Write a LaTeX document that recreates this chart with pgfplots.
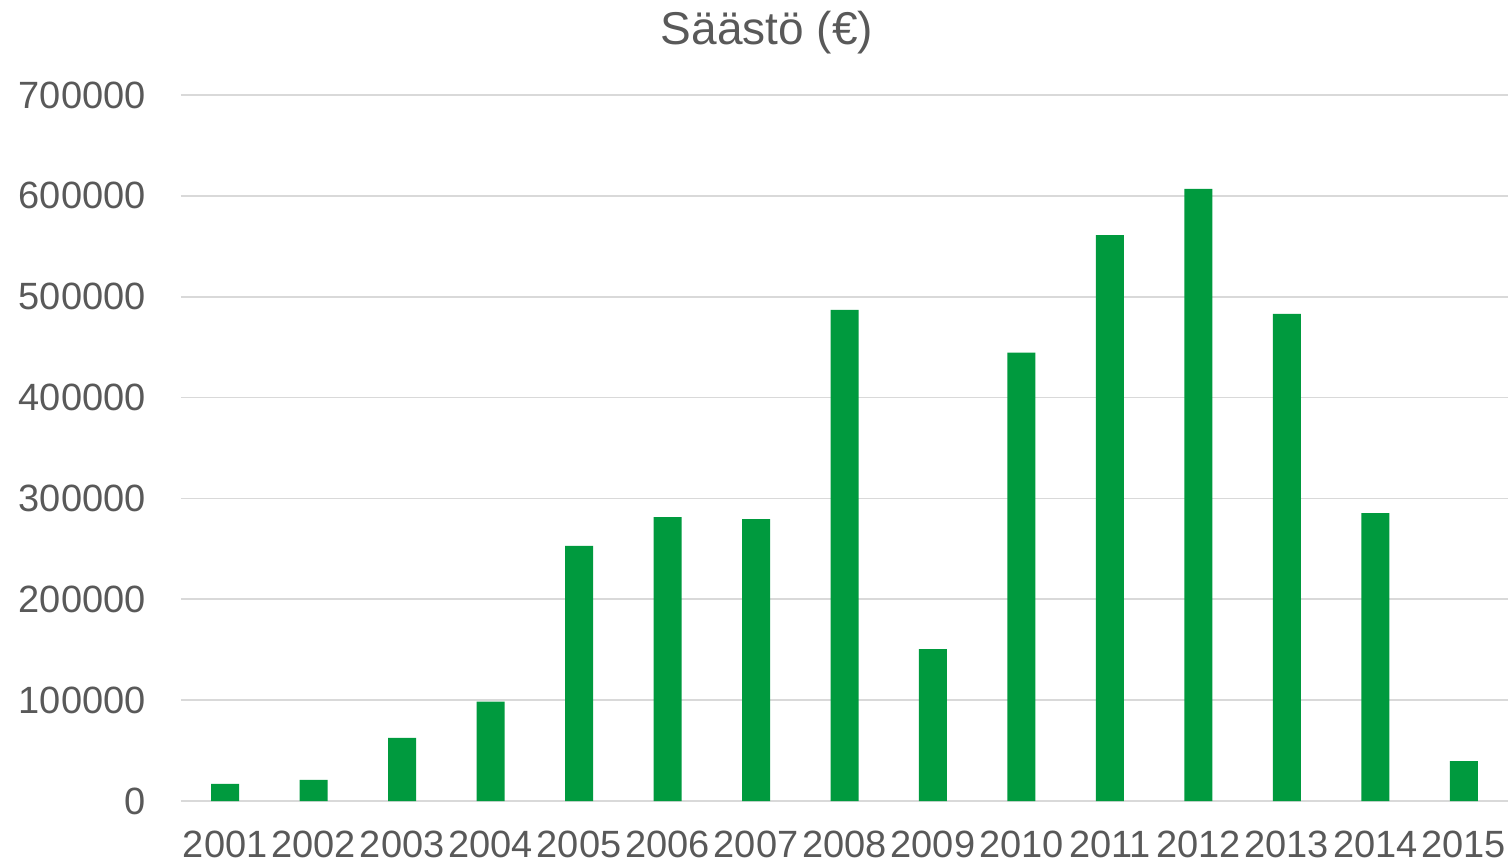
\documentclass[border=0pt]{standalone}
\usepackage{pgfplots}
\pgfplotsset{compat=1.18}
\usepackage{fontspec}
\setmainfont{Liberation Sans}
\definecolor{bargreen}{RGB}{0,154,62}
\definecolor{txtc}{RGB}{89,89,89}
\definecolor{gridc}{RGB}{217,217,217}
\begin{document}
\begin{tikzpicture}
\useasboundingbox (-90.5pt,-31.5pt) rectangle (665pt,400.5pt);
\begin{axis}[
  anchor=south west, at={(0pt,0pt)},
  scale only axis,
  width=663.5pt, height=353pt,
  xmin=-0.5, xmax=14.5,
  ymin=0, ymax=700000,
  ytick={0,100000,200000,300000,400000,500000,600000,700000},
  yticklabels={0,100000,200000,300000,400000,500000,600000,700000},
  xtick={0,...,14},
  xticklabels={2001,2002,2003,2004,2005,2006,2007,2008,2009,2010,2011,2012,2013,2014,2015},
  scaled y ticks=false,
  ymajorgrids,
  major grid style={draw=gridc, line width=0.8pt},
  axis line style={draw=none},
  major tick length=0pt,
  tick label style={font=\fontsize{19}{21}\selectfont, text=txtc},
  yticklabel style={anchor=east, inner sep=0pt, xshift=-17.5pt},
  xticklabel style={anchor=base, inner sep=0pt, yshift=-28pt},
  title={Säästö (€)},
  title style={at={(0.4416,1.055)}, anchor=base, font=\fontsize{23}{25}\selectfont, text=txtc},
  ybar, bar width=14pt,
  clip=false,
]
\addplot[fill=bargreen, draw=none] coordinates {
(0,17000) (1,21000) (2,62500) (3,98500) (4,253000) (5,281500) (6,279500) (7,487000) (8,150500) (9,444500) (10,561000) (11,607000) (12,483000) (13,285500) (14,39500)
};
\end{axis}
\end{tikzpicture}
\end{document}
